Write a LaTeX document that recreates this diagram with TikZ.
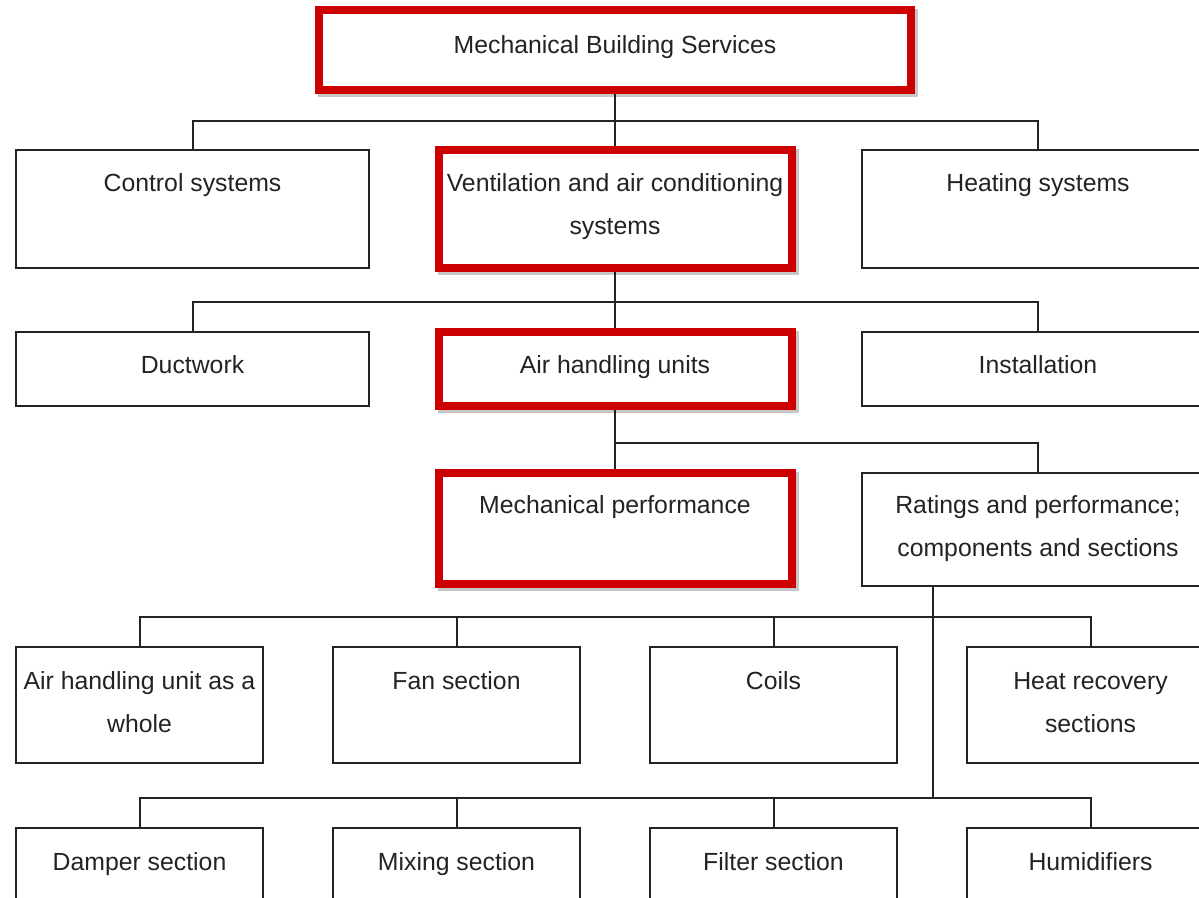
\documentclass[tikz,border=0pt]{standalone}
\usepackage{fontspec}
\setmainfont{Liberation Sans}
\usetikzlibrary{calc,backgrounds}
\definecolor{boxred}{RGB}{204,0,0}
\definecolor{ink}{RGB}{35,35,35}
\begin{document}
\begin{tikzpicture}[x=0.5pt,y=-0.5pt,
  sz/.style 2 args={minimum width=#1*0.5pt, minimum height=#2*0.5pt},
  box/.style={draw=ink, line width=1pt, fill=white, rectangle, inner sep=0pt, outer sep=0pt},
  redbox/.style={draw=boxred, line width=4pt, fill=white, rectangle, inner sep=0pt, outer sep=0pt,
    preaction={draw=black, draw opacity=0.22, line width=4pt, transform canvas={xshift=1.6pt, yshift=-1.6pt}}},
  txt/.style={font=\fontsize{12.4pt}{15pt}\selectfont, text=ink, inner sep=0pt, anchor=base},
  link/.style={draw=ink, line width=1pt},
]
\useasboundingbox (0,0) rectangle (1199,898);
\clip (0,0) rectangle (1199,898);

% level 1
\node[redbox, sz={592}{80}] (top) at (615,50) {};
% level 2
\node[box, sz={353}{118}] (ctrl) at (192.5,209) {};
\node[redbox, sz={353}{118}] (vent) at (615,209) {};
\node[box, sz={352}{118}] (heat) at (1038,209) {};
% level 3
\node[box, sz={353}{74}] (duct) at (192.5,369) {};
\node[redbox, sz={353}{74}] (ahu) at (615,369) {};
\node[box, sz={352}{74}] (inst) at (1038,369) {};
% level 4
\node[redbox, sz={353}{111}] (mech) at (615,528.5) {};
\node[box, sz={352}{113}] (rat) at (1038,529.5) {};
% level 5
\node[box, sz={247}{116}] (whole) at (139.5,705) {};
\node[box, sz={247}{116}] (fan) at (456.5,705) {};
\node[box, sz={247}{116}] (coils) at (773.5,705) {};
\node[box, sz={247}{116}] (heatrec) at (1090.5,705) {};
% level 6
\node[box, sz={247}{116}] (damper) at (139.5,886) {};
\node[box, sz={247}{116}] (mixing) at (456.5,886) {};
\node[box, sz={247}{116}] (filter) at (773.5,886) {};
\node[box, sz={247}{116}] (humid) at (1090.5,886) {};

% texts
\node[txt] (t-top) at ($(top.north)+(0,44)$) {Mechanical Building Services};
\node[txt] (t-ctrl) at ($(ctrl.north)+(0,42)$) {Control systems};
\node[txt] (t-vent1) at ($(vent.north)+(0,42)$) {Ventilation and air conditioning};
\node[txt] (t-vent2) at ($(vent.north)+(0,85)$) {systems};
\node[txt] (t-heat) at ($(heat.north)+(0,42)$) {Heating systems};
\node[txt] (t-duct) at ($(duct.north)+(0,42)$) {Ductwork};
\node[txt] (t-ahu) at ($(ahu.north)+(0,42)$) {Air handling units};
\node[txt] (t-inst) at ($(inst.north)+(0,42)$) {Installation};
\node[txt] (t-mech) at ($(mech.north)+(0,40)$) {Mechanical performance};
\node[txt] (t-rat1) at ($(rat.north)+(0,40)$) {Ratings and performance;};
\node[txt] (t-rat2) at ($(rat.north)+(0,83)$) {components and sections};
\node[txt] (t-whole1) at ($(whole.north)+(0,42)$) {Air handling unit as a};
\node[txt] (t-whole2) at ($(whole.north)+(0,85)$) {whole};
\node[txt] (t-fan) at ($(fan.north)+(0,42)$) {Fan section};
\node[txt] (t-coils) at ($(coils.north)+(0,42)$) {Coils};
\node[txt] (t-heatrec1) at ($(heatrec.north)+(0,42)$) {Heat recovery};
\node[txt] (t-heatrec2) at ($(heatrec.north)+(0,85)$) {sections};
\node[txt] (t-damper) at ($(damper.north)+(0,42)$) {Damper section};
\node[txt] (t-mixing) at ($(mixing.north)+(0,42)$) {Mixing section};
\node[txt] (t-filter) at ($(filter.north)+(0,42)$) {Filter section};
\node[txt] (t-humid) at ($(humid.north)+(0,42)$) {Humidifiers};

% junctions
\coordinate (j1) at (615,121);
\coordinate (j2) at (615,302);
\coordinate (j3) at (615,443);
\coordinate (r0) at ($(rat.south west)+(71,0)$);
\coordinate (j4) at ($(r0)+(0,31)$);
\coordinate (j5) at ($(r0)+(0,212)$);

\begin{scope}[on background layer]
\fill[white] (0,0) rectangle (1199,898);
\draw[link] (top.south) -- (j1) -- (vent.north);
\draw[link] (ctrl.north) |- (j1) -| (heat.north);
\draw[link] (vent.south) -- (j2) -- (ahu.north);
\draw[link] (duct.north) |- (j2) -| (inst.north);
\draw[link] (ahu.south) -- (j3) -- (mech.north);
\draw[link] (j3) -| (rat.north);
\draw[link] (r0) -- (j5);
\draw[link] (whole.north) |- (j4) -| (heatrec.north);
\draw[link] (fan.north) -- (fan.north |- j4);
\draw[link] (coils.north) -- (coils.north |- j4);
\draw[link] (damper.north) |- (j5) -| (humid.north);
\draw[link] (mixing.north) -- (mixing.north |- j5);
\draw[link] (filter.north) -- (filter.north |- j5);
\end{scope}
\end{tikzpicture}
\end{document}
